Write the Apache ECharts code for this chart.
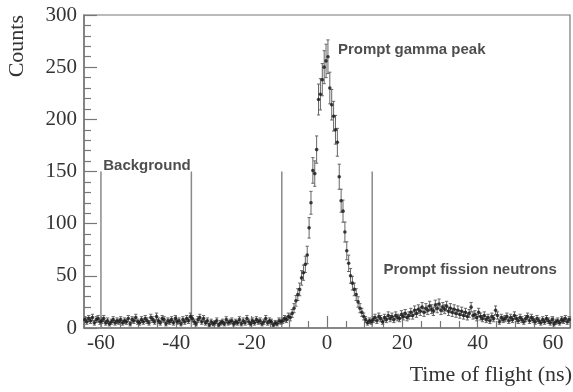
<!DOCTYPE html>
<html>
<head>
<meta charset="utf-8">
<script src="https://cdn.jsdelivr.net/npm/echarts@6/dist/echarts.min.js"></script>
<style>
  html, body { margin: 0; padding: 0; background: #fff; }
  #chart { width: 573px; height: 392px; }
</style>
</head>
<body>
<div id="chart"></div>
<script>
// Histogram: 0.5 ns bins, first bin centred at -64.25 ns
const firstBinCenter = -64.25;
const binWidth = 0.5;

// counts, bins -64.25 ... -12.25 ns (background region)
const countsBackground = [
  8, 6, 9, 7, 10, 5, 8, 9, 6, 7,
  9, 5, 7, 4, 6, 8, 5, 7, 6, 8,
  5, 7, 6, 9, 4, 8, 7, 10, 6, 5,
  8, 6, 9, 7, 5, 10, 8, 6, 11, 7,
  5, 9, 8, 4, 7, 6, 8, 5, 9, 6,
  7, 4, 8, 6, 9, 7, 11, 9, 6, 4,
  8, 10, 6, 9, 5, 7, 3, 6, 4, 5,
  7, 3, 5, 6, 4, 8, 5, 6, 7, 4,
  6, 5, 8, 4, 7, 5, 9, 6, 4, 7,
  5, 8, 6, 7, 4, 6, 9, 5, 7, 6,
  3, 5, 4, 7, 6
];
// counts, bins -11.75 ... 11.75 ns (prompt gamma peak)
const countsPeak = [
  7, 9, 8, 11, 10, 14, 19, 26, 32, 37,
  48, 53, 61, 70, 96, 120, 151, 148, 171, 219,
  224, 238, 250, 256, 260, 230, 214, 203, 190, 178,
  145, 122, 112, 92, 74, 62, 50, 43, 37, 32,
  25, 19, 15, 11, 8, 5, 7, 6
];
// counts, bins 12.25 ... 64.25 ns (prompt fission neutrons)
const countsNeutrons = [
  8, 10, 7, 11, 9, 6, 10, 8, 12, 9,
  11, 8, 12, 10, 9, 13, 11, 14, 10, 12,
  15, 12, 17, 14, 18, 16, 20, 15, 19, 17,
  21, 18, 16, 22, 19, 23, 17, 20, 18, 21,
  16, 19, 15, 18, 14, 17, 13, 16, 12, 15,
  11, 14, 20, 12, 13, 10, 15, 11, 9, 12,
  8, 10, 7, 11, 9, 17, 12, 6, 10, 8,
  9, 11, 7, 10, 8, 12, 9, 7, 10, 8,
  6, 9, 11, 7, 10, 8, 6, 9, 7, 5,
  8, 6, 9, 7, 5, 8, 4, 6, 7, 5,
  8, 7, 9, 6, 8
];

// region boundary lines (ns) and their height (counts)
const regionEdges = [-60, -36, -12, 12];
const regionTop = 150;

const yTicks = [0, 50, 100, 150, 200, 250, 300];
const xTickLabels = [-60, -40, -20, 0, 20, 40, 60];

const counts = countsBackground.concat(countsPeak, countsNeutrons);
const points = counts.map((c, i) => [firstBinCenter + i * binWidth, c]);
const errors = counts.map((c, i) => {
  const e = Math.sqrt(c);
  return [firstBinCenter + i * binWidth, c - e, c + e];
});

const serif = '"Liberation Serif", "DejaVu Serif", serif';
const sans = '"Liberation Sans", Arial, sans-serif';
const axisGray = '#777';

const chart = echarts.init(document.getElementById('chart'), null, { renderer: 'canvas' });

const series = [];
regionEdges.forEach((x) => {
  series.push({
    type: 'line',
    data: [[x, 0], [x, regionTop]],
    symbol: 'none',
    silent: true,
    lineStyle: { color: '#8a8a8a', width: 1.5 },
    z: 1
  });
});
series.push({
  type: 'custom',
  data: errors,
  encode: { x: 0, y: [1, 2] },
  clip: true,
  z: 3,
  renderItem: function (params, api) {
    const x = api.value(0);
    const top = api.coord([x, api.value(2)]);
    const bot = api.coord([x, api.value(1)]);
    const cap = 1.6;
    const st = { stroke: '#666', lineWidth: 1 };
    return {
      type: 'group',
      children: [
        { type: 'line', shape: { x1: top[0], y1: top[1], x2: bot[0], y2: bot[1] }, style: st },
        { type: 'line', shape: { x1: top[0] - cap, y1: top[1], x2: top[0] + cap, y2: top[1] }, style: st },
        { type: 'line', shape: { x1: bot[0] - cap, y1: bot[1], x2: bot[0] + cap, y2: bot[1] }, style: st }
      ]
    };
  }
});
series.push({
  type: 'scatter',
  data: points,
  symbol: 'circle',
  symbolSize: 3.6,
  itemStyle: { color: '#151515' },
  z: 4
});
series.push({
  type: 'scatter',
  symbolSize: 0,
  silent: true,
  z: 5,
  data: [
    { value: [-59.4, 155], name: 'Background' },
    { value: [2.9, 266.5], name: 'Prompt gamma peak' },
    { value: [15.0, 55.6], name: 'Prompt fission neutrons' }
  ],
  label: {
    show: true,
    position: 'right',
    distance: 0,
    formatter: (p) => p.name,
    fontFamily: sans,
    fontWeight: 'bold',
    fontSize: 15,
    color: '#222'
  }
});

chart.setOption({
  animation: false,
  backgroundColor: '#fff',
  grid: {
    left: 84, right: 1, top: 15, bottom: 64,
    show: true, borderColor: axisGray, borderWidth: 1.2, backgroundColor: 'transparent'
  },
  xAxis: {
    type: 'value',
    min: -64.5,
    max: 64.5,
    splitNumber: 6,
    axisLine: { show: true, onZero: false, lineStyle: { color: axisGray, width: 1.5 } },
    axisTick: { show: true, inside: true, length: 12, lineStyle: { color: axisGray, width: 1.2 } },
    minorTick: { show: true, splitNumber: 4, length: 7, lineStyle: { color: axisGray, width: 1.2 } },
    splitLine: { show: false },
    axisLabel: {
      margin: 5,
      fontFamily: serif,
      fontSize: 21,
      color: '#333',
      formatter: (v) => (xTickLabels.indexOf(Math.round(v * 1000) / 1000) >= 0 ? String(v) : '')
    }
  },
  yAxis: {
    type: 'value',
    min: yTicks[0],
    max: yTicks[yTicks.length - 1],
    interval: 50,
    axisLine: { show: true, onZero: false, lineStyle: { color: axisGray, width: 1.5 } },
    axisTick: { show: true, inside: true, length: 13, lineStyle: { color: axisGray, width: 1.2 } },
    minorTick: { show: true, splitNumber: 5, length: 7, lineStyle: { color: axisGray, width: 1.2 } },
    splitLine: { show: false },
    axisLabel: { margin: 7, fontFamily: serif, fontSize: 21, color: '#333' }
  },
  graphic: [
    {
      type: 'text',
      x: 17, y: 15,
      rotation: Math.PI / 2,
      style: {
        text: 'Counts',
        font: '22px ' + serif,
        fill: '#333',
        align: 'right',
        verticalAlign: 'middle'
      }
    },
    {
      type: 'text',
      x: 572, y: 375,
      style: {
        text: 'Time of flight (ns)',
        font: '22px ' + serif,
        fill: '#333',
        align: 'right',
        verticalAlign: 'middle'
      }
    }
  ],
  series: series
});
</script>
</body>
</html>
